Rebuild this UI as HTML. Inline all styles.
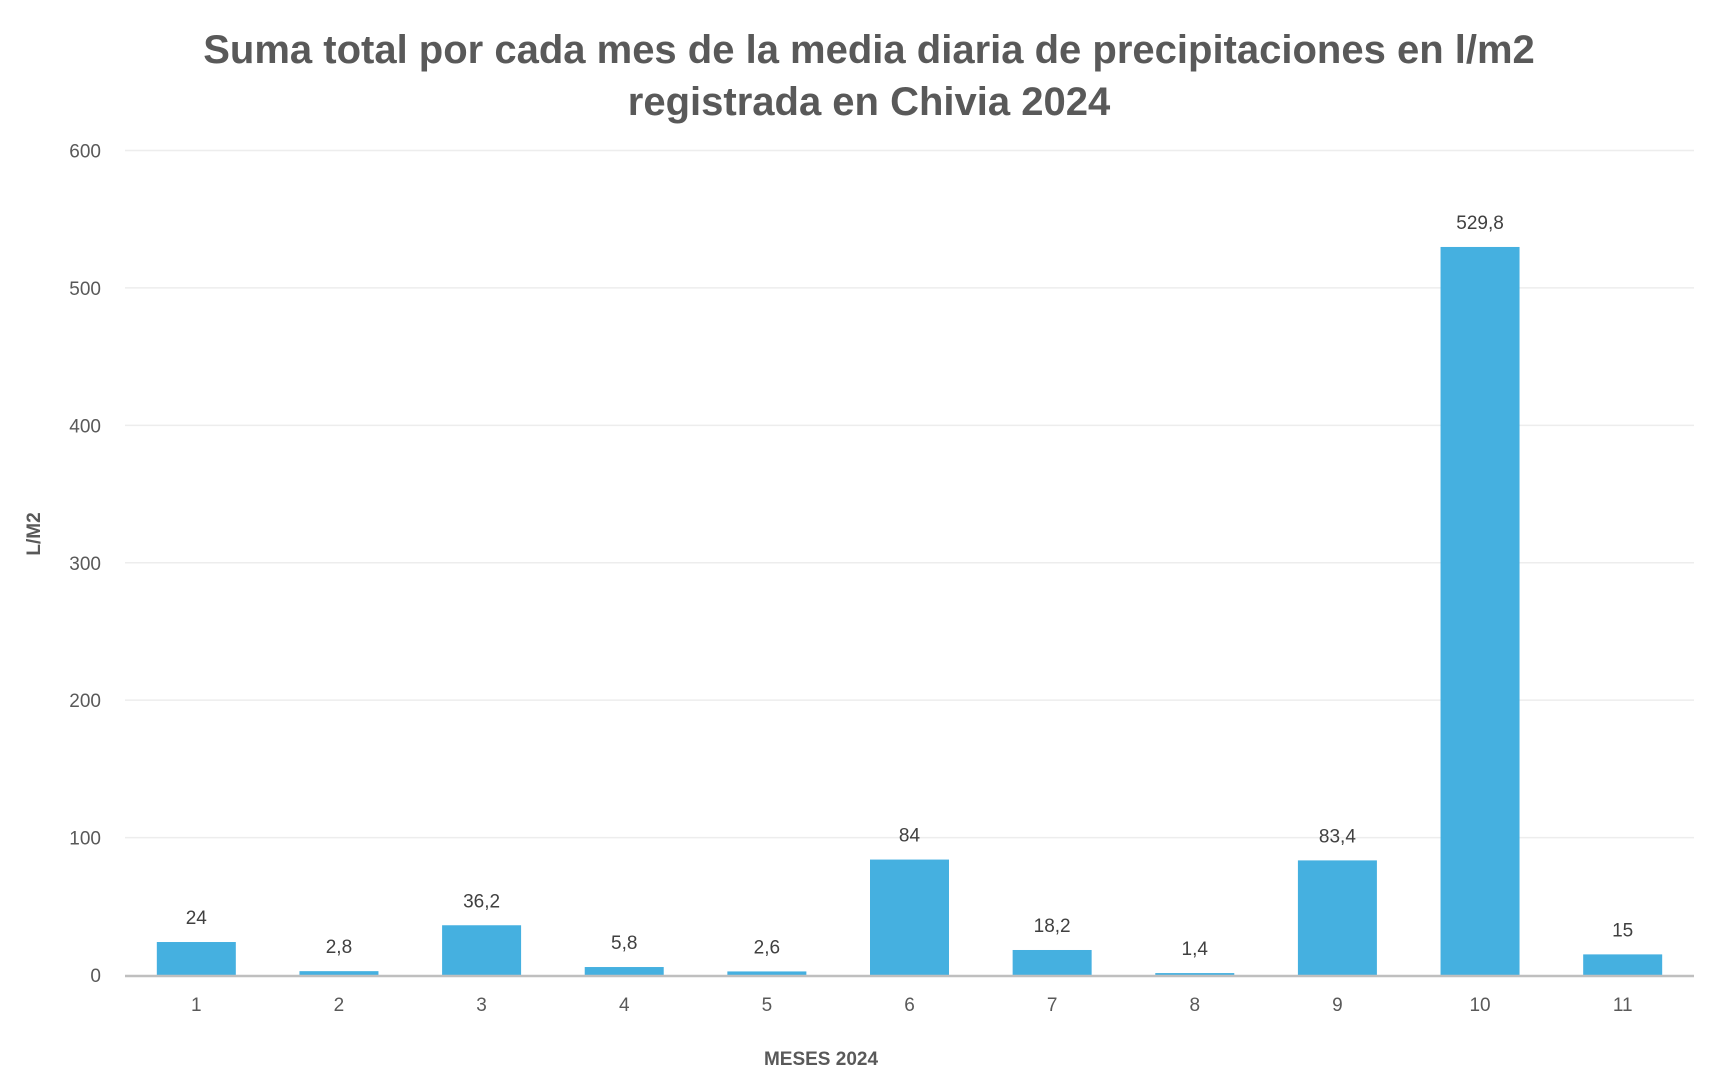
<!DOCTYPE html>
<html><head><meta charset="utf-8"><style>
body{margin:0;background:#fff;}
svg text{font-family:"Liberation Sans",sans-serif;fill:#595959;}
</style></head><body>
<svg width="1710" height="1084">
<text x="869" y="63" font-size="40" font-weight="bold" text-anchor="middle">Suma total por cada mes de la media diaria de precipitaciones en l/m2</text>
<text x="869" y="115" font-size="40" font-weight="bold" text-anchor="middle">registrada en Chivia 2024</text>
<text transform="translate(40,534) rotate(-90)" font-size="19" font-weight="bold" text-anchor="middle">L/M2</text>
<text x="821" y="1065" font-size="19" font-weight="bold" text-anchor="middle">MESES 2024</text>
<g id="g"></g>
</svg>
<script>
const categories=["1","2","3","4","5","6","7","8","9","10","11"];
const values=[24,2.8,36.2,5.8,2.6,84,18.2,1.4,83.4,529.8,15];
const labels=["24","2,8","36,2","5,8","2,6","84","18,2","1,4","83,4","529,8","15"];
const ticks=[0,100,200,300,400,500,600];
const L=125,R=1694,Y0=975,Ytop=150.5,maxV=600;
const y=v=>Y0-(v/maxV)*(Y0-Ytop);
const bw=(R-L)/categories.length;
const x=i=>L+bw*(i+0.5);
const g=document.getElementById('g');
const NS='http://www.w3.org/2000/svg';
function mk(t,a){const e=document.createElementNS(NS,t);for(const k in a)e.setAttribute(k,a[k]);g.appendChild(e);return e;}
ticks.forEach(t=>{
 if(t>0){const l=mk('line',{x1:L,x2:R,y1:y(t),y2:y(t),stroke:'#ededed','stroke-width':1.5});
 
 }
 const tx=mk('text',{x:101,y:y(t)+7,'font-size':19,'text-anchor':'end'});tx.textContent=t;
 
 
});
values.forEach((v,i)=>{
 const r=mk('rect',{x:x(i)-39.5,y:y(v),width:79,height:Y0-y(v),fill:'#45b0e0'});
 
 
 const t=mk('text',{x:x(i),y:y(v)-18,'font-size':19,'text-anchor':'middle',style:'fill:#404040'});t.textContent=labels[i];
 
 
 const c=mk('text',{x:x(i),y:1011,'font-size':19,'text-anchor':'middle'});c.textContent=categories[i];
 
 
});
const ax=mk('line',{x1:L,x2:R,y1:Y0+1,y2:Y0+1,stroke:'#bfbfbf','stroke-width':2.5});


</script>
</body></html>
